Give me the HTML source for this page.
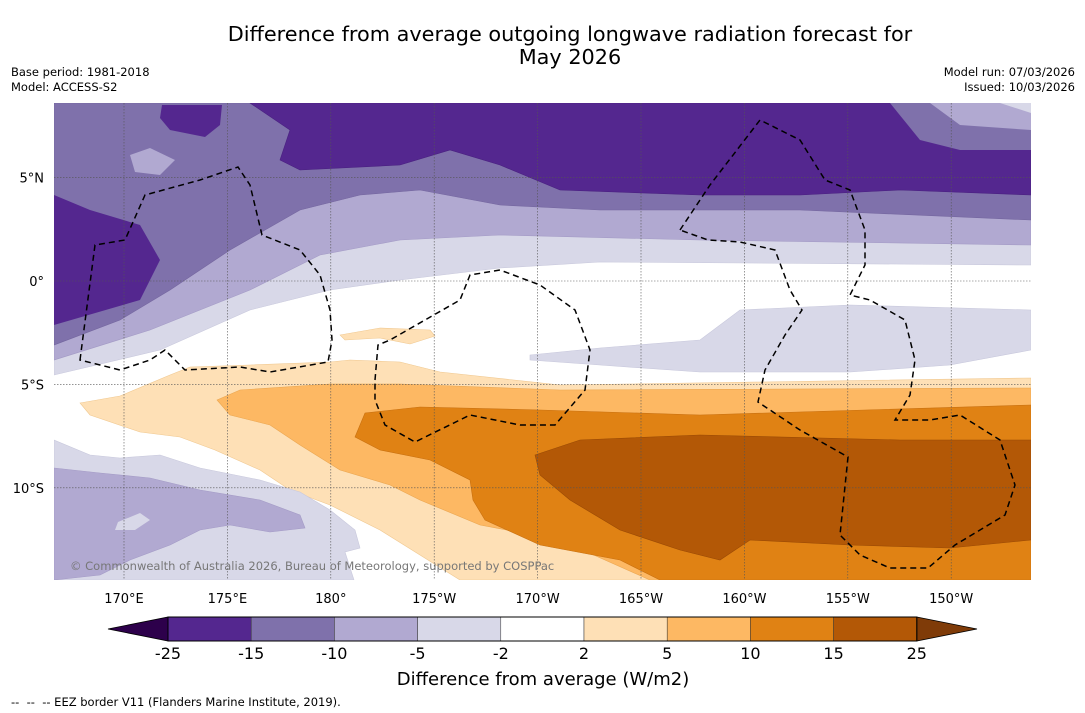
<!DOCTYPE html>
<html><head><meta charset="utf-8"><style>
body{margin:0;background:#fff;width:1085px;height:713px;overflow:hidden;font-family:"DejaVu Sans","Liberation Sans",sans-serif}
svg{display:block}
</style></head><body>
<svg width="1085" height="713" viewBox="0 0 1085 713" font-family="DejaVu Sans, Liberation Sans, sans-serif">
<text x="570" y="41" font-size="20.8" text-anchor="middle">Difference from average outgoing longwave radiation forecast for</text>
<text x="570" y="64" font-size="20.8" text-anchor="middle">May 2026</text>
<text x="11" y="76" font-size="11.5">Base period: 1981-2018</text>
<text x="11" y="91" font-size="11.5">Model: ACCESS-S2</text>
<text x="1075" y="76" font-size="11.5" text-anchor="end">Model run: 07/03/2026</text>
<text x="1075" y="91" font-size="11.5" text-anchor="end">Issued: 10/03/2026</text>
<defs><clipPath id="mc"><rect x="54" y="103" width="977" height="477"/></clipPath></defs>
<g clip-path="url(#mc)">
<rect x="54" y="103" width="977" height="477" fill="#fff"/>
<g stroke-width="0.6">
<polygon fill="#d8d8e8" stroke="#c8c8dc" points="54,103 1031,103 1031,265 600,262 500,268 400,280 330,290 250,310 160,350 54,375"/>
<polygon fill="#d8d8e8" stroke="#c8c8dc" points="530,355 600,348 700,340 740,310 850,305 1031,310 1031,350 950,365 850,372 700,372 600,365 530,360"/>
<polygon fill="#b1a9d1" stroke="#a49bc6" points="54,103 1031,103 1031,245 700,240 500,235 400,240 320,255 250,290 150,330 54,360"/>
<polygon fill="#7f71ab" stroke="#74669f" points="54,103 1031,103 1031,220 800,210 600,210 500,205 420,190 360,195 300,210 230,250 170,290 120,320 54,345"/>
<polygon fill="#54278f" stroke="#4a2080" points="250,103 1031,103 1031,195 900,190 800,195 700,195 560,190 500,165 450,150 400,165 300,170 280,160 290,130"/>
<polygon fill="#7f71ab" points="890,103 1031,103 1031,150 960,150 920,140"/>
<polygon fill="#b1a9d1" points="930,103 1031,103 1031,130 960,125"/>
<polygon fill="#d8d8e8" points="1000,103 1031,103 1031,113"/>
<polygon fill="#54278f" points="54,195 90,210 140,225 160,260 140,300 54,325"/>
<polygon fill="#54278f" points="162,105 222,105 220,125 205,137 170,130 160,118"/>
<polygon fill="#b1a9d1" points="130,155 150,148 175,160 160,175 135,172"/>
<polygon fill="#fee0b6" stroke="#f0c890" points="80,403 120,396 170,375 190,367 250,365 330,362 350,360 400,362 440,372 560,385 1031,378 1031,580 460,580 420,555 380,530 330,505 290,490 260,470 215,450 180,437 140,432 90,415"/>
<polygon fill="#fee0b6" stroke="#f0c890" points="340,335 380,328 430,330 435,336 410,344 380,338 345,340"/>
<polygon fill="#fdb863" stroke="#eaa650" points="217,400 240,390 330,384 400,384 560,390 1031,388 1031,580 650,580 560,540 480,525 420,500 390,485 340,470 300,445 270,425 230,415"/>
<polygon fill="#e08214" stroke="#c87010" points="355,437 365,413 420,407 540,410 700,415 1031,405 1031,580 660,580 620,560 540,545 485,520 473,500 470,480 430,460 380,450"/>
<polygon fill="#b35806" stroke="#9a4a05" points="535,455 580,440 700,435 900,440 1031,440 1031,540 950,548 850,545 750,540 720,560 680,550 620,530 570,500 540,475"/>
<polygon fill="#d8d8e8" stroke="#c8c8dc" points="54,440 90,455 120,458 160,455 200,468 260,480 300,492 330,510 355,530 360,548 345,552 354,580 54,580"/>
<polygon fill="#b1a9d1" stroke="#a49bc6" points="54,468 100,473 150,478 200,490 260,500 300,515 305,528 270,532 230,525 200,530 170,545 130,560 100,575 54,580"/>
<polygon fill="#d8d8e8" points="118,522 140,513 150,520 135,530 115,530"/>
</g>
<g id="grid" stroke="#555" stroke-width="0.6" stroke-dasharray="1.5,1.5"></g>
<g fill="none" stroke="#000" stroke-width="1.5" stroke-dasharray="6,4">
<path d="M80,360 L95,245 L125,240 L145,195 L200,180 L238,167 L250,185 L262,235 L300,250 L320,275 L330,310 L332,340 L328,362 L270,372 L240,367 L185,370 L165,350 L150,360 L120,370 Z"/>
<path d="M375,380 L378,345 L390,340 L460,300 L470,275 L500,270 L540,285 L575,310 L590,350 L585,390 L555,425 L520,425 L470,415 L415,442 L385,425 L375,400 Z"/>
<path d="M680,230 L710,185 L760,120 L800,140 L825,180 L850,190 L865,230 L865,265 L850,295 L870,300 L905,320 L915,360 L910,395 L895,420 L930,420 L960,415 L1000,440 L1015,485 L1005,515 L980,530 L955,545 L928,568 L890,568 L860,555 L840,535 L848,457 L800,430 L758,402 L765,370 L785,335 L802,310 L790,290 L775,250 L740,242 L708,240 Z"/>
</g>
<text x="70" y="570" font-size="11.5" fill="#777">© Commonwealth of Australia 2026, Bureau of Meteorology, supported by COSPPac</text>
</g>
<g id="ticks" font-size="13"></g>
<g id="cbar"></g>
<text x="543" y="685" font-size="18" text-anchor="middle">Difference from average (W/m2)</text>
<text x="11" y="706" font-size="11.5">-- &#160;-- &#160;-- EEZ border V11 (Flanders Marine Institute, 2019).</text>
</svg>
<script>
const lonLabels=["170°E","175°E","180°","175°W","170°W","165°W","160°W","155°W","150°W"];
const lonValues=[170,175,180,185,190,195,200,205,210];
const latLabels=["5°N","0°","5°S","10°S"];
const latValues=[5,0,-5,-10];
const levelLabels=["-25","-15","-10","-5","-2","2","5","10","15","25"];
const levelColors=["#54278f","#7f71ab","#b1a9d1","#d8d8e8","#ffffff","#fee0b6","#fdb863","#e08214","#b35806"];
const NS="http://www.w3.org/2000/svg";
function xLon(l){return 124+(l-170)*20.68;}
function yLat(l){return 281-l*20.68;}
function mk(t,a,p){const e=document.createElementNS(NS,t);for(const k in a)e.setAttribute(k,a[k]);p.appendChild(e);return e;}
const grid=document.getElementById('grid'),ticks=document.getElementById('ticks'),cbar=document.getElementById('cbar');
lonValues.forEach((v,i)=>{
  const ln=mk('line',{x1:xLon(v),x2:xLon(v),y1:103,y2:580},grid);
  
  
  const t=mk('text',{x:xLon(v),y:603,'text-anchor':'middle'},ticks);t.textContent=lonLabels[i];
  
  
});
latValues.forEach((v,i)=>{
  const ln=mk('line',{x1:54,x2:1031,y1:yLat(v),y2:yLat(v)},grid);
  
  
  const t=mk('text',{x:44,y:yLat(v)+5,'text-anchor':'end'},ticks);t.textContent=latLabels[i];
  
  
});
const cx0=168,cw=83.2,cy=617,ch=24;
const lt=mk('polygon',{points:`108,629 ${cx0},${cy} ${cx0},${cy+ch}`,fill:'#2d004b',stroke:'#000','stroke-width':0.8},cbar);


levelColors.forEach((c,i)=>{
  const r=mk('rect',{x:cx0+i*cw,y:cy,width:cw,height:ch,fill:c,stroke:'#333','stroke-width':0.5},cbar);
  
  
});
const end=cx0+levelColors.length*cw;
const rt=mk('polygon',{points:`${end},${cy} 977,629 ${end},${cy+ch}`,fill:'#7f3b08',stroke:'#000','stroke-width':0.8},cbar);


mk('rect',{x:cx0,y:cy,width:end-cx0,height:ch,fill:'none',stroke:'#000','stroke-width':1},cbar);
levelLabels.forEach((s,i)=>{
  const t=mk('text',{x:cx0+i*cw,y:659,'font-size':16,'text-anchor':'middle'},cbar);t.textContent=s;
  
  
});
</script>
</body></html>
